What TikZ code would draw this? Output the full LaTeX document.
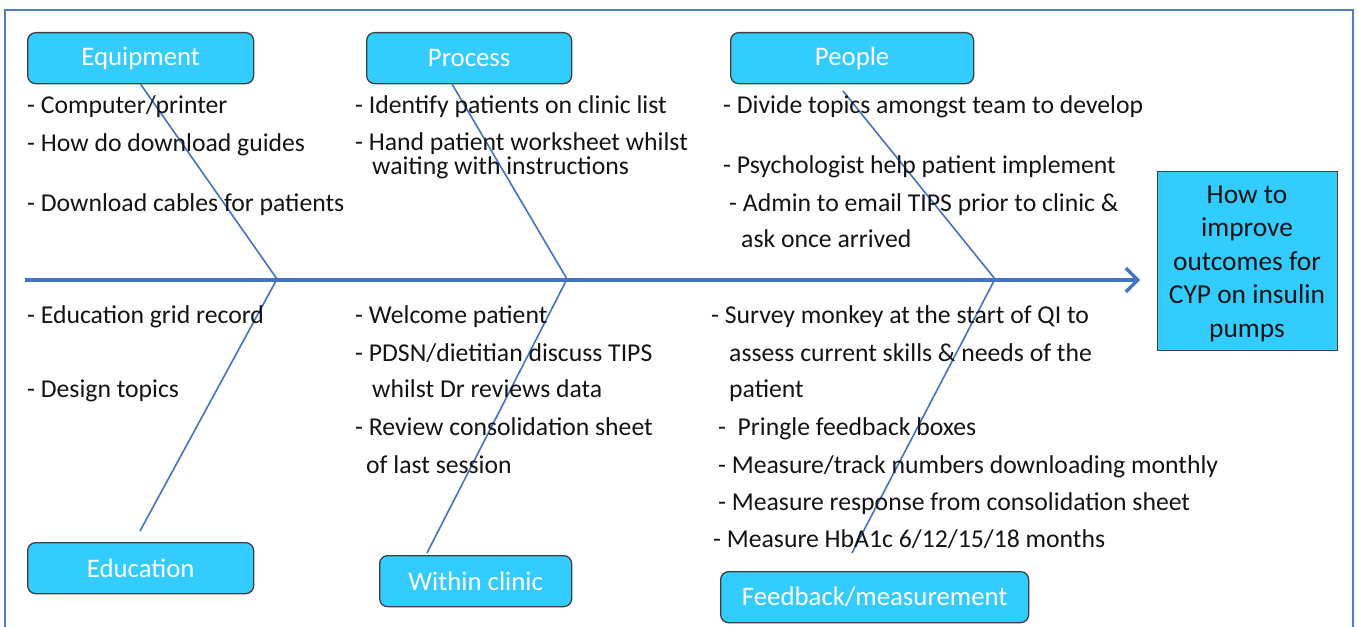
\documentclass[tikz,border=0pt]{standalone}
\usepackage{fontspec}
\setmainfont{Carlito}
\usetikzlibrary{arrows.meta}
\definecolor{bone}{HTML}{4472C4}
\definecolor{frameblue}{HTML}{4F7BC8}
\definecolor{boxfill}{HTML}{33CCFF}
\definecolor{boxedge}{HTML}{3F3F3F}
\definecolor{ink}{HTML}{141414}
\tikzset{
  catbox/.style={draw=boxedge, line width=1.3pt, fill=boxfill, rounded corners=8pt,
    text=white, font=\fontsize{26.8}{31}\selectfont, inner sep=0pt, anchor=north west},
  item/.style={anchor=base west, inner sep=0pt, text=ink, font=\fontsize{25.7}{30}\selectfont},
  goaltext/.style={anchor=base, inner sep=0pt, text=ink, font=\fontsize{27.4}{32}\selectfont},
  bonestyle/.style={draw=bone, line width=1.6pt},
  spinestyle/.style={draw=bone, line width=3.2pt, -{Straight Barb[length=12pt,width=24pt,line width=3.2pt]}},
}
\begin{document}
\begin{tikzpicture}[x=1pt,y=-1pt]
\useasboundingbox (0,0) rectangle (1359,626);
\fill[white] (0,0) rectangle (1359,626);
% open frame round the chart
\draw[frameblue, line width=2.6pt] (5,630) -- (5,10) -- (1353,10) -- (1353,630);

% category boxes
\node[catbox, minimum width=226pt, minimum height=51pt] (equip) at (27,32) {Equipment};
\node[catbox, minimum width=205pt, minimum height=51pt] (proc) at (366,32) {Process};
\node[catbox, minimum width=243pt, minimum height=51pt] (people) at (730,32) {People};
\node[catbox, minimum width=226pt, minimum height=51pt] (edu) at (27,542) {Education};
\node[catbox, minimum width=192pt, minimum height=51pt] (clinic) at (379,555) {Within clinic};
\node[catbox, minimum width=308pt, minimum height=51pt] (feed) at (720,571) {Feedback/measurement};

% effect box
\node[draw=boxedge, line width=1.3pt, fill=boxfill, minimum width=180pt, minimum height=179pt,
  anchor=north west, inner sep=0pt] (goal) at (1157,171) {};
\node[goaltext] (g1) at (1247,203) {How to};
\node[goaltext] (g2) at (1247,236) {improve};
\node[goaltext] (g3) at (1247,270) {outcomes for};
\node[goaltext] (g4) at (1247,303) {CYP on insulin};
\node[goaltext] (g5) at (1247,337) {pumps};

% spine and bones
\coordinate (tail) at (25,280);
\coordinate (head) at (1140,280);
\coordinate (j1) at (277,279);
\coordinate (j2) at (567,279);
\coordinate (j3) at (995,279);
\coordinate (procfoot) at (452,84);
\coordinate (peoplefoot) at (843,91);
\coordinate (edutop) at (140,531);
\coordinate (clinictop) at (427,553);
\coordinate (feedtop) at (852,553);

\draw[bonestyle] (equip.south) -- (j1) -- (edutop);
\draw[bonestyle] (procfoot) -- (j2) -- (clinictop);
\draw[bonestyle] (peoplefoot) -- (j3) -- (feedtop);
\draw[spinestyle] (tail) -- (head);

% equipment causes
\node[item] (e1) at (27,113) {- Computer/printer};
\node[item] (e2) at (27,151) {- How do download guides};
\node[item] (e3) at (27,211) {- Download cables for patients};

% process causes
\node[item] (p1) at (355,113) {- Identify patients on clinic list};
\node[item] (p2) at (355,150) {- Hand patient worksheet whilst};
\node[item] (p3) at (372,174) {waiting with instructions};

% people causes
\node[item] (h1) at (723,113) {- Divide topics amongst team to develop};
\node[item] (h2) at (723,173) {- Psychologist help patient implement};
\node[item] (h3) at (729,211) {- Admin to email TIPS prior to clinic \&};
\node[item] (h4) at (741,247) {ask once arrived};

% education causes
\node[item] (d1) at (27,323) {- Education grid record};
\node[item] (d2) at (27,397) {- Design topics};

% within clinic causes
\node[item] (w1) at (355,323) {- Welcome patient};
\node[item] (w2) at (355,361) {- PDSN/dietitian discuss TIPS};
\node[item] (w3) at (372,397) {whilst Dr reviews data};
\node[item] (w4) at (355,435) {- Review consolidation sheet};
\node[item] (w5) at (366,473) {of last session};

% feedback causes
\node[item] (f1) at (711,323) {- Survey monkey at the start of QI to};
\node[item] (f2) at (729,361) {assess current skills \& needs of the};
\node[item] (f3) at (729,397) {patient};
\node[item] (f4) at (718,435) {-\ \ Pringle feedback boxes};
\node[item] (f5) at (718,473) {- Measure/track numbers downloading monthly};
\node[item] (f6) at (718,510) {- Measure response from consolidation sheet};
\node[item] (f7) at (713,547) {- Measure HbA1c 6/12/15/18 months};
\end{tikzpicture}
\end{document}
